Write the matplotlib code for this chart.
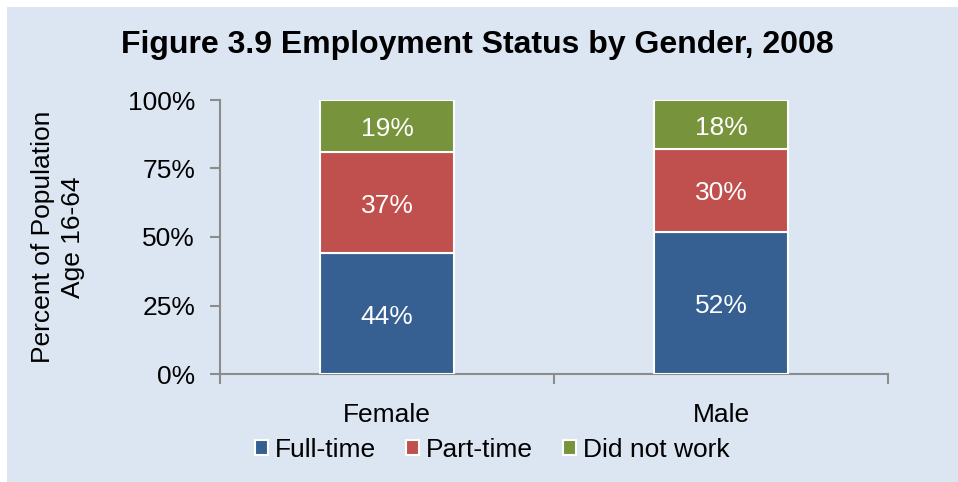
import matplotlib.pyplot as plt
from matplotlib.patches import Rectangle, Patch
import numpy as np

plt.rcParams['font.family'] = ['Liberation Sans', 'DejaVu Sans']

# data
genders = ["Female", "Male"]
full_time = [44, 52]
part_time = [37, 30]
did_not_work = [19, 18]
series_names = ["Full-time", "Part-time", "Did not work"]
colors = ["#366092", "#c0504d", "#77933c"]
yticks = [0, 25, 50, 75, 100]
ytick_labels = ["0%", "25%", "50%", "75%", "100%"]

bg = "#dce6f2"
axis_col = "#8c8c8c"
fs = 19

fig = plt.figure(figsize=(9.58, 4.82), dpi=100, facecolor="white")
fig.patches.append(Rectangle((7 / 958, 0), 1, 1 - 7 / 482, transform=fig.transFigure,
                             facecolor=bg, edgecolor="none", zorder=-10))

ax = fig.add_axes([220 / 958, 1 - 374 / 482, 668 / 958, 274 / 482])
ax.set_facecolor("none")

x = np.arange(len(genders))
width = 0.4
bottom = np.zeros(len(genders))
for vals, col in zip([full_time, part_time, did_not_work], colors):
    bars = ax.bar(x, vals, width, bottom=bottom, color=col, edgecolor="white",
                  linewidth=1.5, zorder=3)
    for b, v in zip(bars, vals):
        ax.annotate(f"{v}%", (b.get_x() + b.get_width() / 2, b.get_y() + b.get_height() / 2),
                    xytext=(0, -3), textcoords="offset pixels",
                    ha="center", va="center", color="white", fontsize=fs, zorder=4)
    bottom += np.array(vals)

ax.set_xlim(-0.5, 1.5)
ax.set_ylim(0, 100)
ax.set_yticks(yticks)
ax.set_yticklabels(ytick_labels, fontsize=fs)
ax.set_xticks([-0.5, 0.5, 1.5])
ax.set_xticklabels([])
ax.set_xticks(x, minor=True)
ax.set_xticklabels(genders, minor=True, fontsize=fs)
ax.tick_params(axis="x", which="minor", length=0, pad=21)
ax.tick_params(axis="both", which="major", length=7, width=1.5, color=axis_col, direction="out")
ax.tick_params(axis="y", pad=11)

for s in ["top", "right"]:
    ax.spines[s].set_visible(False)
for s in ["left", "bottom"]:
    ax.spines[s].set_color(axis_col)
    ax.spines[s].set_linewidth(1.5)

fig.text(58 / 958, 1 - 237 / 482, "Percent of Population\nAge 16-64", rotation=90,
         ha="center", va="center", fontsize=fs, linespacing=1.35)

fig.text(477 / 958, 1 - 45 / 482, "Figure 3.9 Employment Status by Gender, 2008",
         ha="center", va="center", fontsize=23, fontweight="bold")

handles = [Patch(facecolor=c, edgecolor="white", linewidth=1.5) for c in colors]
fig.legend(handles, series_names, loc="center", bbox_to_anchor=(492 / 958, 1 - 450 / 482),
           ncol=3, frameon=False, fontsize=fs, handlelength=0.5, handleheight=0.5,
           handletextpad=0.25, columnspacing=1.15)

fig.savefig("out.png", dpi=100, facecolor=fig.get_facecolor())
